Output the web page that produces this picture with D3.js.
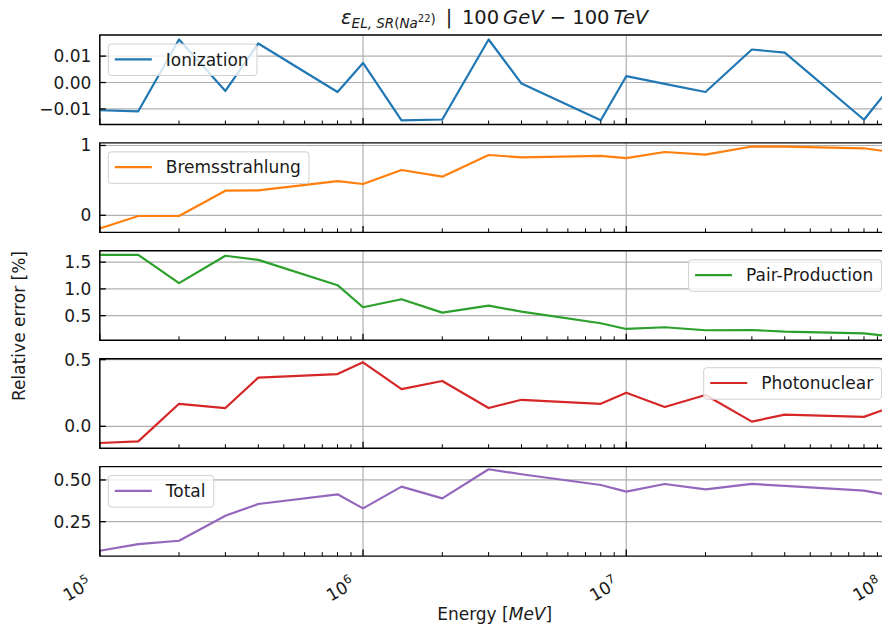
<!DOCTYPE html>
<html>
<head>
<meta charset="utf-8">
<script src="https://cdn.jsdelivr.net/npm/d3@7"></script>
<style>
  body { margin: 0; background: #fff; }
  svg { display: block; }
  text { font-family: "DejaVu Sans", sans-serif; fill: #1a1a1a; }
</style>
</head>
<body>
<svg id="chart" width="882" height="632"></svg>
<script>
// Energy grid [MeV]
const energies = [1e5, 1.4e5, 2e5, 3e5, 4e5, 8e5, 1e6, 1.4e6, 2e6, 3e6, 4e6, 8e6,
                  1e7, 1.4e7, 2e7, 3e7, 4e7, 8e7, 1e8];

// Relative error [%] per interaction
const ionization    = [-0.0105, -0.0109, 0.0163, -0.0032, 0.0148, -0.0036, 0.0074, -0.0143, -0.0140, 0.0163,
                       -0.0004, -0.0143, 0.0024, -0.0005, -0.0036, 0.0125, 0.0113, -0.0141, -0.0020];
const bremsstrahlung = [-0.19, -0.01, -0.01, 0.352, 0.358, 0.49, 0.448, 0.649, 0.553, 0.864,
                        0.83, 0.85, 0.82, 0.907, 0.868, 0.985, 0.985, 0.96, 0.91];
const pairProduction = [1.636, 1.636, 1.107, 1.62, 1.543, 1.069, 0.657, 0.807, 0.556, 0.687,
                        0.575, 0.358, 0.251, 0.283, 0.227, 0.232, 0.2, 0.17, 0.115];
const photonuclear   = [-0.125, -0.113, 0.169, 0.137, 0.365, 0.392, 0.48, 0.279, 0.34, 0.137,
                        0.199, 0.169, 0.252, 0.145, 0.235, 0.035, 0.088, 0.071, 0.14];
const total          = [0.076, 0.116, 0.136, 0.286, 0.356, 0.414, 0.33, 0.46, 0.39, 0.564,
                        0.534, 0.47, 0.43, 0.476, 0.444, 0.476, 0.464, 0.436, 0.408];

const seriesNames  = ["Ionization", "Bremsstrahlung", "Pair-Production", "Photonuclear", "Total"];
const seriesValues = [ionization, bremsstrahlung, pairProduction, photonuclear, total];
const seriesColors = ["#1f77b4", "#ff7f0e", "#2ca02c", "#d62728", "#9467bd"];

// y-axis limits and ticks of each panel
const yDomains = [[-0.0159, 0.018], [-0.245, 1.037], [0.039, 1.712], [-0.164, 0.507], [0.044, 0.58]];
const yTicks = [[-0.01, 0, 0.01], [0, 1], [0.5, 1.0, 1.5], [0, 0.5], [0.25, 0.5]];
const yTickLabels = [["\u22120.01", "0.00", "0.01"], ["0", "1"], ["0.5", "1.0", "1.5"], ["0.0", "0.5"], ["0.25", "0.50"]];
const legendCorner = ["left", "left", "right", "right", "left"];

// x-axis decades
const xDomain = [1e5, 1e8];
const xTickExponents = [5, 6, 7, 8];

// ---- layout ----
const svg = d3.select("#chart");
const left = 99.8, right = 889.5;
const panelTop0 = 35, panelStep = 107.9, panelH = 89.5;
const FS = 17;

const x = d3.scaleLog().domain(xDomain).range([left, right]);

const majorX = xTickExponents.map(e => Math.pow(10, e));
const minorX = [];
for (let e = xTickExponents[0]; e < xTickExponents[xTickExponents.length - 1]; e++) {
  for (let m = 2; m <= 9; m++) minorX.push(m * Math.pow(10, e));
}

seriesNames.forEach((name, i) => {
  const top = panelTop0 + i * panelStep;
  const bottom = top + panelH;
  const y = d3.scaleLinear().domain(yDomains[i]).range([bottom, top]);
  const g = svg.append("g");

  const clipId = "clip" + i;
  svg.append("clipPath").attr("id", clipId)
    .append("rect").attr("x", left).attr("y", top).attr("width", right - left).attr("height", panelH);

  // grid
  const grid = g.append("g").attr("stroke", "#b0b0b0").attr("stroke-width", 1.2);
  grid.selectAll("line.gx").data(majorX).join("line")
    .attr("x1", d => x(d)).attr("x2", d => x(d)).attr("y1", top).attr("y2", bottom);
  grid.selectAll("line.gy").data(yTicks[i]).join("line")
    .attr("x1", left).attr("x2", right).attr("y1", d => y(d)).attr("y2", d => y(d));

  // series line
  const line = d3.line().x((d, k) => x(energies[k])).y(d => y(d));
  g.append("path").datum(seriesValues[i])
    .attr("clip-path", `url(#${clipId})`)
    .attr("fill", "none").attr("stroke", seriesColors[i]).attr("stroke-width", 2.2)
    .attr("stroke-linejoin", "round").attr("d", line);

  // ticks (inward)
  const ticks = g.append("g").attr("stroke", "#000");
  ticks.selectAll("line.mx").data(majorX).join("line")
    .attr("stroke-width", 1.3)
    .attr("x1", d => x(d)).attr("x2", d => x(d)).attr("y1", bottom).attr("y2", bottom - 6.5);
  ticks.selectAll("line.nx").data(minorX).join("line")
    .attr("stroke-width", 1)
    .attr("x1", d => x(d)).attr("x2", d => x(d)).attr("y1", bottom).attr("y2", bottom - 4);
  ticks.selectAll("line.my").data(yTicks[i]).join("line")
    .attr("stroke-width", 1.3)
    .attr("x1", left).attr("x2", left + 6).attr("y1", d => y(d)).attr("y2", d => y(d));

  // y tick labels
  g.selectAll("text.yl").data(yTicks[i]).join("text")
    .attr("x", left - 8.5).attr("y", d => y(d))
    .attr("text-anchor", "end").attr("dominant-baseline", "central")
    .attr("font-size", FS).text((d, k) => yTickLabels[i][k]);

  // spines (left, top, bottom)
  g.append("path")
    .attr("d", `M${right + 5},${top}H${left}V${bottom}H${right + 5}`)
    .attr("fill", "none").attr("stroke", "#000").attr("stroke-width", 1.4);

  // legend
  const lg = g.append("g");
  const box = lg.append("rect").attr("rx", 3).attr("ry", 3)
    .attr("fill", "#fff").attr("fill-opacity", 0.8)
    .attr("stroke", "#d0d0d0").attr("stroke-width", 1);
  const handle = lg.append("line").attr("stroke", seriesColors[i]).attr("stroke-width", 2.2);
  const label = lg.append("text").attr("font-size", FS).attr("dominant-baseline", "central").text(name);
  const tw = label.node().getComputedTextLength();
  const bw = tw + 57.5 + 8.3, bh = 31.5;
  const bx = legendCorner[i] === "left" ? left + 8.5 : right - 8 - bw;
  const by = top + 9;
  box.attr("x", bx).attr("y", by).attr("width", bw).attr("height", bh);
  handle.attr("x1", bx + 6.5).attr("x2", bx + 43.5).attr("y1", by + 15.3).attr("y2", by + 15.3);
  label.attr("x", bx + 57.5).attr("y", by + 15.5);

  // x tick labels on the lowest panel only
  if (i === seriesNames.length - 1) {
    xTickExponents.forEach(e => {
      const t = svg.append("text")
        .attr("font-size", FS).attr("text-anchor", "end")
        .attr("transform", `translate(${x(Math.pow(10, e)) - 7},${bottom + 31}) rotate(-30)`);
      t.append("tspan").text("10");
      t.append("tspan").attr("font-size", 12).attr("dy", -7).text(e);
    });
  }
});

// title
const title = svg.append("text").attr("x", (left + right) / 2).attr("y", 24)
  .attr("text-anchor", "middle").attr("font-size", 19.5);
title.append("tspan").attr("font-style", "italic").text("\u03b5");
title.append("tspan").attr("font-style", "italic").attr("font-size", 13.5).attr("dy", 4).text("EL, SR");
title.append("tspan").attr("font-size", 13.5).text("(");
title.append("tspan").attr("font-style", "italic").attr("font-size", 13.5).text("Na");
title.append("tspan").attr("font-size", 10).attr("dy", -6).text("22");
title.append("tspan").attr("font-size", 13.5).attr("dy", 2).text(")");
title.append("tspan").attr("dy", 0).text("\u2002|\u2002100\u2009");
title.append("tspan").attr("font-style", "italic").text("GeV");
title.append("tspan").text(" \u2212 100\u2009");
title.append("tspan").attr("font-style", "italic").text("TeV");

// axis titles
const xl = svg.append("text").attr("x", (left + right) / 2).attr("y", 620)
  .attr("text-anchor", "middle").attr("font-size", FS);
xl.append("tspan").text("Energy [");
xl.append("tspan").attr("font-style", "italic").text("MeV");
xl.append("tspan").text("]");

svg.append("text")
  .attr("transform", "translate(25,326) rotate(-90)")
  .attr("text-anchor", "middle").attr("font-size", FS)
  .text("Relative error [%]");
</script>
</body>
</html>
